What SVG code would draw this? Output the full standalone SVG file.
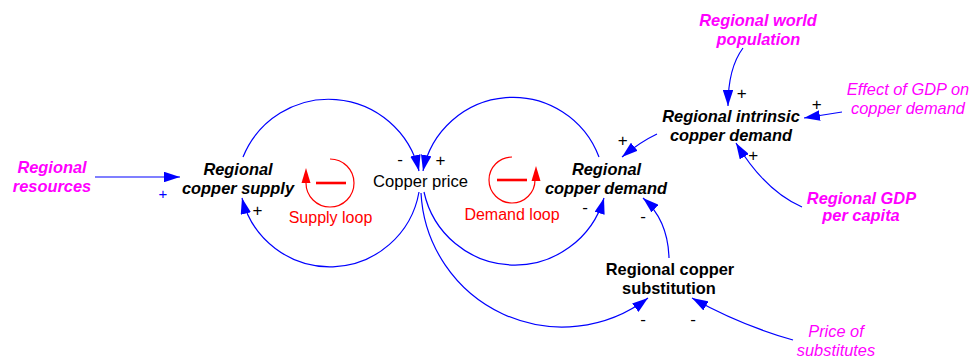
<svg xmlns="http://www.w3.org/2000/svg" width="973" height="361" viewBox="0 0 973 361">
  <defs>
    <marker id="arrow" viewBox="0 0 16 10.5" refX="16" refY="5.25" markerWidth="16" markerHeight="10.5" markerUnits="userSpaceOnUse" orient="auto">
      <path d="M0,0 L16,5.25 L0,10.5 z" fill="#0000ff"/>
    </marker>
    <style>
      .link { fill: none; stroke: #0000ff; stroke-width: 1.2; marker-end: url(#arrow); }
      .lbl { font-family: "Liberation Sans", Arial, sans-serif; font-size: 16.4px; text-anchor: middle; }
      .var { font-weight: bold; font-style: italic; fill: #000; }
      .aux { font-weight: bold; fill: #000; }
      .ext { font-weight: bold; font-style: italic; fill: #ff00ff; }
      .exti { font-style: italic; fill: #ff00ff; }
      .plain { fill: #000; }
      .sign { font-family: "Liberation Sans", Arial, sans-serif; font-size: 17px; text-anchor: middle; fill: #000; }
      .loop { fill: none; stroke: #ff0000; stroke-width: 1.2; }
      .loopbar { stroke: #ff0000; stroke-width: 2.6; }
      .looptxt { font-family: "Liberation Sans", Arial, sans-serif; font-size: 16px; text-anchor: middle; fill: #ff0000; }
    </style>
  </defs>

  <!-- causal links -->
  <g id="connectors">
    <path class="link" d="M 95 177 L 180 177"/>
    <path class="link" d="M 243 157 A 92.6 92.6 0 0 1 419 171"/>
    <path class="link" d="M 419 192 A 90.5 90.5 0 0 1 242 198"/>
    <path class="link" d="M 599 157 A 91.8 91.8 0 0 0 423 171"/>
    <path class="link" d="M 424 192 A 92.9 92.9 0 0 0 604 198"/>
    <path class="link" d="M 421 193 A 141.4 141.4 0 0 0 648 298"/>
    <path class="link" d="M 669 258 Q 668 220 643 198"/>
    <path class="link" d="M 793 340 Q 740 325 692 298"/>
    <path class="link" d="M 657 134 Q 640 142 622 157"/>
    <path class="link" d="M 743 48 Q 728 68 728 106"/>
    <path class="link" d="M 842 112 L 804 118"/>
    <path class="link" d="M 802 207 Q 765 191 736 143"/>
  </g>

  <!-- link polarities -->
  <g id="polarities">
    <text class="sign" x="163" y="198.5" style="fill:#0000ff;font-size:15px">+</text>
    <text class="sign" x="257.5" y="215.5">+</text>
    <text class="sign" x="400" y="164.5">-</text>
    <text class="sign" x="440.5" y="166">+</text>
    <text class="sign" x="585" y="212.5">-</text>
    <text class="sign" x="643" y="222">-</text>
    <text class="sign" x="622.7" y="145.5">+</text>
    <text class="sign" x="643" y="324.5">-</text>
    <text class="sign" x="693" y="324.5">-</text>
    <text class="sign" x="741.7" y="98.5">+</text>
    <text class="sign" x="816.7" y="110">+</text>
    <text class="sign" x="753.3" y="161">+</text>
  </g>

  <g id="regional-resources">
    <text class="lbl ext" x="52" y="172.5">Regional</text>
    <text class="lbl ext" x="52" y="191.5">resources</text>
  </g>

  <g id="regional-copper-supply">
    <text class="lbl var" x="238" y="174.5">Regional</text>
    <text class="lbl var" x="238" y="193.5">copper supply</text>
  </g>

  <g id="copper-price">
    <text class="lbl plain" x="420.5" y="187" style="font-size:16.6px">Copper price</text>
  </g>

  <g id="regional-copper-demand">
    <text class="lbl var" x="606.5" y="174.5">Regional</text>
    <text class="lbl var" x="606" y="193.5">copper demand</text>
  </g>

  <g id="regional-intrinsic-copper-demand">
    <text class="lbl var" x="731" y="122">Regional intrinsic</text>
    <text class="lbl var" x="731" y="140.5">copper demand</text>
  </g>

  <g id="regional-world-population">
    <text class="lbl ext" x="758" y="26">Regional world</text>
    <text class="lbl ext" x="758.5" y="44.5">population</text>
  </g>

  <g id="effect-of-gdp">
    <text class="lbl exti" x="908" y="95">Effect of GDP on</text>
    <text class="lbl exti" x="908" y="113.5">copper demand</text>
  </g>

  <g id="regional-gdp-per-capita">
    <text class="lbl ext" x="861.5" y="203.5">Regional GDP</text>
    <text class="lbl ext" x="861" y="221">per capita</text>
  </g>

  <g id="regional-copper-substitution">
    <text class="lbl aux" x="670" y="274.5">Regional copper</text>
    <text class="lbl aux" x="669" y="293.5">substitution</text>
  </g>

  <g id="price-of-substitutes">
    <text class="lbl exti" x="836" y="337">Price of</text>
    <text class="lbl exti" x="836" y="356">substitutes</text>
  </g>

  <!-- balancing loop markers -->
  <g id="supply-loop">
    <path class="loop" d="M 330 159 A 24 24 0 1 1 306 183"/>
    <polygon points="306,168 301.5,183 310.5,183" fill="#ff0000"/>
    <line class="loopbar" x1="316" y1="183" x2="346" y2="183"/>
    <text class="looptxt" x="330.5" y="222.5">Supply loop</text>
  </g>

  <g id="demand-loop">
    <path class="loop" d="M 512 157 A 23 23 0 1 0 535 180"/>
    <polygon points="536,166 531.5,181 540.5,181" fill="#ff0000"/>
    <line class="loopbar" x1="497" y1="180" x2="527" y2="180"/>
    <text class="looptxt" x="512" y="220">Demand loop</text>
  </g>
</svg>
